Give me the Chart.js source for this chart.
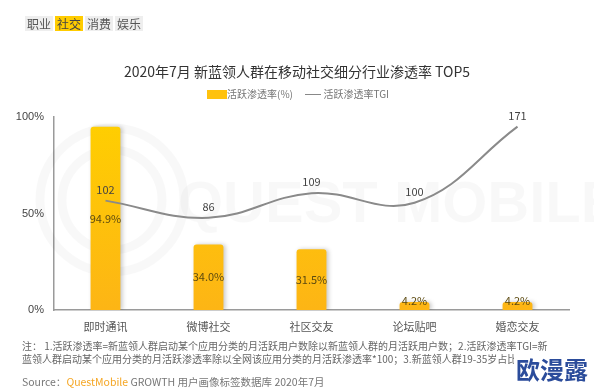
<!DOCTYPE html>
<html>
<head>
<meta charset="utf-8">
<script src="https://cdn.jsdelivr.net/npm/chart.js@4"></script>
<style>
  body { margin: 0; background: #fff; font-family: "Noto Sans CJK SC", "Noto Sans", sans-serif; }
  #wrap { position: relative; width: 594px; height: 392px; overflow: hidden; }
  #chart { position: absolute; left: 0; top: 0; }
  .txt { position: absolute; white-space: nowrap; z-index: 2; }
  .tag { display: inline-block; padding: 0 2px; margin-right: 2px; background: #eee; color: #555; font-size: 12px; line-height: 15px; }
  .tag.on { background: #ffcc00; color: #444; }
  .note { color: #666; font-size: 10px; line-height: 13px; }
</style>
</head>
<body>
<div id="wrap">
  <canvas id="chart" width="594" height="392"></canvas>
  <div class="txt" style="left:25px;top:10px;">
    <span class="tag">职业</span><span class="tag on">社交</span><span class="tag">消费</span><span class="tag">娱乐</span>
  </div>
  <div class="txt" style="left:0;width:594px;top:61px;text-align:center;font-size:14px;color:#333;">2020年7月 新蓝领人群在移动社交细分行业渗透率 TOP5</div>
  <div class="txt" style="left:207px;top:87px;font-size:10px;color:#777;line-height:14px;">
    <span style="display:inline-block;width:20px;height:9px;background:#ffc20e;vertical-align:-1px;"></span>活跃渗透率(%)
    <span style="display:inline-block;width:16px;height:0;border-top:1.5px solid #888;vertical-align:3px;margin-left:10px;"></span> 活跃渗透率TGI
  </div>
  <div class="txt note" style="left:22px;top:339px;">注： 1.活跃渗透率=新蓝领人群启动某个应用分类的月活跃用户数除以新蓝领人群的月活跃用户数；2.活跃渗透率TGI=新</div>
  <div class="txt note" style="left:22px;top:352px;">蓝领人群启动某个应用分类的月活跃渗透率除以全网该应用分类的月活跃渗透率*100；3.新蓝领人群19-35岁占比达64.4%</div>
  <div class="txt" style="left:22px;top:374px;font-size:10.5px;color:#777;">Source：<span style="color:#f5a623;">QuestMobile</span> GROWTH 用户画像标签数据库 2020年7月</div>
  <div class="txt" style="left:514px;top:352px;font-size:24px;font-weight:bold;color:#2b4c9b;background:#fff;line-height:34px;padding:0 2px;">欧漫露</div>
</div>
<script>
const categories = ['即时通讯', '微博社交', '社区交友', '论坛贴吧', '婚恋交友'];
const penetrationRate = [94.9, 34.0, 31.5, 4.2, 4.2];
const tgiValues = [102, 86, 109, 100, 171];
const rateTicks = [0, 50, 100];

const barGradient = (context) => {
  const area = context.chart.chartArea;
  if (!area) return '#ffc20e';
  const g = context.chart.ctx.createLinearGradient(0, area.top, 0, area.bottom);
  g.addColorStop(0, '#ffcf00');
  g.addColorStop(1, '#fdb515');
  return g;
};

const watermark = {
  id: 'watermark',
  beforeDatasetsDraw(chart) {
    const ctx = chart.ctx;
    ctx.save();
    ctx.strokeStyle = 'rgba(0,0,0,0.028)';
    ctx.lineWidth = 9;
    [72, 50].forEach((r) => {
      ctx.beginPath();
      ctx.arc(112, 200, r, 0, Math.PI * 2);
      ctx.stroke();
    });
    ctx.fillStyle = 'rgba(0,0,0,0.028)';
    ctx.font = 'bold 58px "Liberation Sans", sans-serif';
    ctx.textBaseline = 'middle';
    ctx.fillText('QUEST MOBILE', 178, 206);
    ctx.restore();
  },
};

const barShadow = {
  id: 'barShadow',
  beforeDatasetDraw(chart, args) {
    if (args.meta.type !== 'bar') return;
    const ctx = chart.ctx;
    ctx.save();
    ctx.shadowColor = 'rgba(0,0,0,0.22)';
    ctx.shadowBlur = 4;
    ctx.shadowOffsetX = 2;
    ctx.shadowOffsetY = 0;
  },
  afterDatasetDraw(chart, args) {
    if (args.meta.type !== 'bar') return;
    chart.ctx.restore();
  },
};

const valueLabels = {
  id: 'valueLabels',
  afterDatasetsDraw(chart) {
    const ctx = chart.ctx;
    ctx.save();
    ctx.textAlign = 'center';
    ctx.textBaseline = 'middle';
    ctx.font = '11px "Noto Sans CJK SC", sans-serif';
    chart.getDatasetMeta(0).data.forEach((el, i) => {
      const y = Math.min((el.y + el.base) / 2, el.base - 9);
      ctx.fillStyle = '#5c4a10';
      ctx.fillText(penetrationRate[i].toFixed(1) + '%', el.x, y);
    });
    chart.getDatasetMeta(1).data.forEach((el, i) => {
      ctx.fillStyle = '#444';
      ctx.fillText(String(tgiValues[i]), el.x, el.y - 11);
    });
    ctx.restore();
  },
};

new Chart(document.getElementById('chart'), {
  type: 'bar',
  data: {
    labels: categories,
    datasets: [
      {
        type: 'bar',
        label: '活跃渗透率(%)',
        data: penetrationRate,
        backgroundColor: barGradient,
        borderRadius: { topLeft: 3, topRight: 3 },
        borderSkipped: 'bottom',
        barPercentage: 0.29,
        categoryPercentage: 1,
        yAxisID: 'y',
        order: 1,
      },
      {
        type: 'line',
        label: '活跃渗透率TGI',
        data: tgiValues,
        borderColor: '#8a8a8a',
        borderWidth: 2,
        tension: 0.4,
        pointRadius: 0,
        fill: false,
        yAxisID: 'y2',
        order: 0,
      },
    ],
  },
  options: {
    responsive: false,
    animation: false,
    devicePixelRatio: 1,
    layout: { padding: { left: 0, right: 25, top: 117, bottom: 0 } },
    plugins: { legend: { display: false }, tooltip: { enabled: false } },
    scales: {
      x: {
        grid: { display: false },
        border: { display: true, color: '#9a9a9a', width: 1.5 },
        ticks: { color: '#555', font: { size: 11, family: '"Noto Sans CJK SC", sans-serif' }, padding: 2 },
        afterFit: (s) => { s.height = 82; },
      },
      y: {
        min: 0,
        max: 100,
        afterBuildTicks: (s) => { s.ticks = rateTicks.map((v) => ({ value: v })); },
        grid: { display: false, drawTicks: false },
        border: { display: true, color: '#9a9a9a', width: 1.5 },
        ticks: { color: '#444', font: { size: 11 }, padding: 10, callback: (v) => v + '%' },
        afterFit: (s) => { s.width = 54; },
      },
      y2: { display: false, position: 'right', min: 0, max: 180 },
    },
  },
  plugins: [watermark, barShadow, valueLabels],
});
</script>
</body>
</html>
